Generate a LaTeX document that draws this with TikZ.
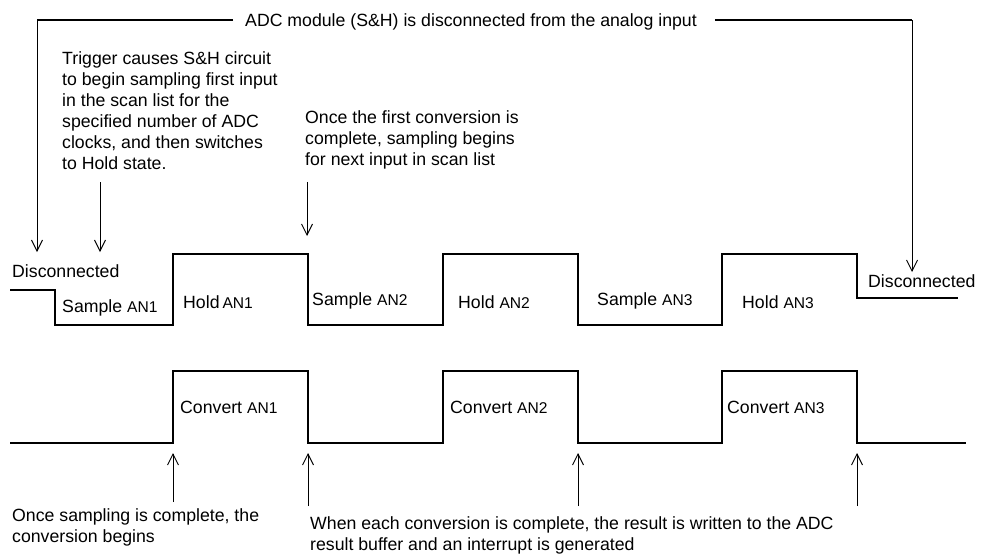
\documentclass[tikz,border=0pt]{standalone}
\usepackage{fontspec}
\setmainfont{Liberation Sans}
\usepackage{tikz}
\usetikzlibrary{arrows.meta,calc,positioning}
\newcommand{\chan}[1]{{\fontsize{15.6}{21}\selectfont AN#1}}

\begin{document}
\begin{tikzpicture}[x=1pt,y=-1pt, every node/.style={font=\fontsize{17.7}{21}\selectfont,inner sep=0pt},
  wave/.style={line width=2pt,line join=miter},
  bracket/.style={line width=1.3pt},
  pointer/.style={-{Straight Barb[length=11pt,width=11pt]},line width=0.9pt}]
\useasboundingbox (0,0) rectangle (989,554);

% free ends of the pointers
\coordinate (brkl) at (37,20);
\coordinate (brkr) at (912,20);
\coordinate (dtl) at (37,252);
\coordinate (dtr) at (912,272);
\coordinate (trtip) at (100,252);
\coordinate (nxtip) at (307,236);
\coordinate (u1) at (173,453);
\coordinate (u2) at (308,453);
\coordinate (u3) at (578,453);
\coordinate (u4) at (857,453);

% notes
\node (top) at (471,21.5) {ADC module (S\&H) is disconnected from the analog input};
\node[anchor=north west,align=left] (trig) at (62,51) {Trigger causes S\&H circuit\\to begin sampling first input\\in the scan list for the\\specified number of ADC\\clocks, and then switches\\to Hold state.};
\node[anchor=north west,align=left] (nxt) at (305,110) {Once the first conversion is\\complete, sampling begins\\for next input in scan list};
\node[anchor=north west,align=left] (conv) at (12,508) {Once sampling is complete, the\\conversion begins};
\node[anchor=north west,align=left] (done) at (310,516) {When each conversion is complete, the result is written to the ADC\\result buffer and an interrupt is generated};

% sample / hold labels
\node[anchor=base west] (dl) at (12,277) {Disconnected};
\node[anchor=base west] (s1) at (62,312) {Sample \chan{1}};
\node[anchor=base west] (h1) at (183,308) {Hold\,\chan{1}};
\node[anchor=base west] (s2) at (312,305) {Sample \chan{2}};
\node[anchor=base west] (h2) at (458,308) {Hold \chan{2}};
\node[anchor=base west] (s3) at (597,305) {Sample \chan{3}};
\node[anchor=base west] (h3) at (742,308) {Hold \chan{3}};
\node[anchor=base west] (dr) at (868,287) {Disconnected};

% convert labels
\node[anchor=base west] (c1) at (180,413) {Convert \chan{1}};
\node[anchor=base west] (c2) at (450,413) {Convert \chan{2}};
\node[anchor=base west] (c3) at (727,413) {Convert \chan{3}};

% S&H state
\draw[wave] (10,290) -- (55,290) -- (55,325) -- (173,325) -- (173,254) -- (308,254) -- (308,325) -- (443,325) -- (443,254) -- (578,254) -- (578,325) -- (722,325) -- (722,254) -- (857,254) -- (857,298) -- (958,298);

% conversion
\draw[wave] (10,443) -- (173,443) -- (173,371) -- (308,371) -- (308,443) -- (443,443) -- (443,371) -- (578,371) -- (578,443) -- (722,443) -- (722,371) -- (857,371) -- (857,443) -- (966,443);

% bracket and pointers
\draw[bracket] (top.west |- brkl) ++(-12,0) -- (brkl);
\draw[bracket] (top.east |- brkr) ++(18,0) -- (brkr);
\draw[pointer] (brkl) -- (dtl);
\draw[pointer] (brkr) -- (dtr);
\draw[pointer] (trig.south -| trtip) ++(0,13) -- (trtip);
\draw[pointer] (nxt.south -| nxtip) ++(0,13) -- (nxtip);
\draw[pointer] (conv.north -| u1) ++(0,-6) -- (u1);
\draw[pointer] (done.north -| u2) ++(0,-10) -- (u2);
\draw[pointer] (done.north -| u3) ++(0,-10) -- (u3);
\draw[pointer] (done.north -| u4) ++(0,-10) -- (u4);
\end{tikzpicture}
\end{document}
